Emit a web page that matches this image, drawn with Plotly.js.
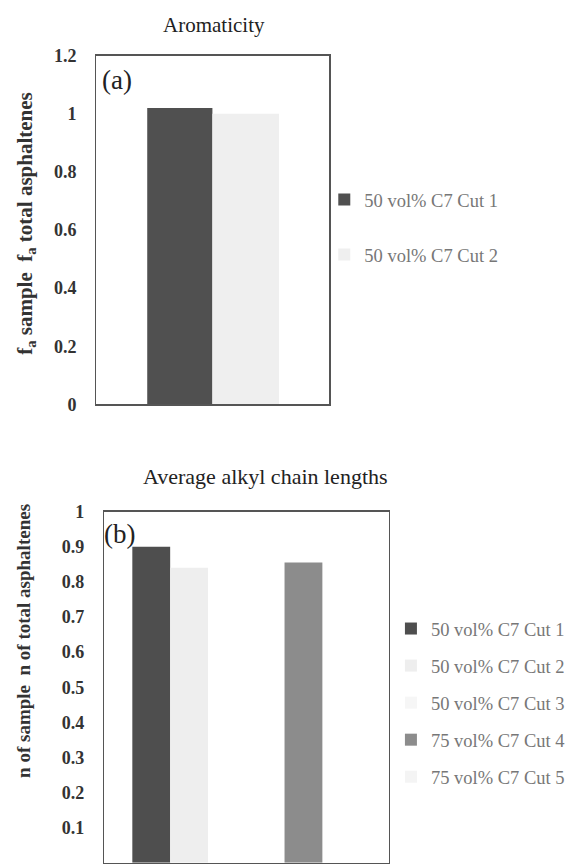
<!DOCTYPE html>
<html>
<head>
<meta charset="utf-8">
<script src="https://cdn.plot.ly/plotly-3.0.1.min.js"></script>
<style>html,body{margin:0;padding:0;background:#fff;}#chart{width:570px;height:866px;}</style>
</head>
<body>
<div id="chart"></div>
<script>
// ---- data ----
const topTitle = 'Aromaticity';
const bottomTitle = 'Average alkyl chain lengths';
const topYTitle = 'f<sub>a</sub> sample  f<sub>a</sub> total asphaltenes';
const bottomYTitle = 'n of sample  n of total asphaltenes';
const topSeries = ['50 vol% C7 Cut 1', '50 vol% C7 Cut 2'];
const topValues = [1.02, 1.00];
const bottomSeries = ['50 vol% C7 Cut 1', '50 vol% C7 Cut 2', '50 vol% C7 Cut 3', '75 vol% C7 Cut 4', '75 vol% C7 Cut 5'];
const bottomValues = [0.90, 0.84, 0, 0.855, 0];
const topTicks = [0, 0.2, 0.4, 0.6, 0.8, 1, 1.2];
const bottomTicks = [0, 0.1, 0.2, 0.3, 0.4, 0.5, 0.6, 0.7, 0.8, 0.9, 1];

// ---- styles ----
const serif = 'Liberation Serif, Times New Roman, serif';
const topColors = ['#505050', '#efefef'];
const topOffsets = [-0.282, -0.002];
const topWidths = [0.28, 0.286];
const bottomColors = ['#4e4e4e', '#eeeeee', '#f6f6f6', '#8c8c8c', '#f4f4f4'];
const bottomOffsets = [-0.402, -0.269, 0.0, 0.133, 0.266];
const bw = 0.133;

const W = 570, H = 866;
const px = v => v / W;
const py = v => 1 - v / H;

const traces = [];
topSeries.forEach((name, i) => {
  traces.push({
    type: 'bar', x: [0], y: [topValues[i]], name: name,
    xaxis: 'x', yaxis: 'y', legend: 'legend', legendgroup: 't' + i,
    offset: topOffsets[i], width: topWidths[i],
    marker: {color: topColors[i], line: {width: 0}},
    hoverinfo: 'y'
  });
});
bottomSeries.forEach((name, i) => {
  traces.push({
    type: 'bar', x: [0], y: [bottomValues[i]], name: name,
    xaxis: 'x2', yaxis: 'y2', legend: 'legend2', legendgroup: 'b' + i,
    offset: bottomOffsets[i], width: bw,
    marker: {color: bottomColors[i], line: {width: 0}},
    hoverinfo: 'y'
  });
});

const axisLine = {showline: true, mirror: true, linecolor: '#555', linewidth: 1.5, showgrid: false, zeroline: false};
const tickFont = {family: serif, size: 18, color: '#333', weight: 'bold'};

const layout = {
  width: W, height: H,
  margin: {l: 0, r: 0, t: 0, b: 0},
  paper_bgcolor: '#fff', plot_bgcolor: '#fff',
  barmode: 'overlay',
  showlegend: true,
  xaxis: Object.assign({}, axisLine, {domain: [px(97), px(331)], range: [-0.5, 0.5], showticklabels: false, ticks: '', anchor: 'y', fixedrange: true}),
  yaxis: Object.assign({}, axisLine, {domain: [py(404.3), py(55.7)], range: [0, 1.2], tickvals: topTicks, ticktext: topTicks.map(String), ticks: '', tickfont: tickFont, ticklabelstandoff: 15, anchor: 'x'}),
  xaxis2: Object.assign({}, axisLine, {domain: [px(105), px(391)], range: [-0.5, 0.5], showticklabels: false, ticks: '', anchor: 'y2', fixedrange: true}),
  yaxis2: Object.assign({}, axisLine, {domain: [py(862.7), py(511.7)], range: [0, 1], tickvals: bottomTicks, ticktext: bottomTicks.map(String), ticks: '', tickfont: tickFont, ticklabelstandoff: 15, anchor: 'x2'}),
  legend: {x: px(326), xanchor: 'left', y: py(181), yanchor: 'top', bgcolor: 'rgba(0,0,0,0)',
    font: {family: serif, size: 18.5, color: '#777'}, tracegroupgap: 28, traceorder: 'grouped', itemwidth: 30},
  legend2: {x: px(393), xanchor: 'left', y: py(610), yanchor: 'top', bgcolor: 'rgba(0,0,0,0)',
    font: {family: serif, size: 18.5, color: '#777'}, tracegroupgap: 10, traceorder: 'grouped', itemwidth: 30},
  annotations: [
    {text: topTitle, x: px(215), y: py(25), xref: 'paper', yref: 'paper', showarrow: false, xanchor: 'center', yanchor: 'middle',
      font: {family: serif, size: 21, color: '#222'}},
    {text: bottomTitle, x: px(267), y: py(476), xref: 'paper', yref: 'paper', showarrow: false, xanchor: 'center', yanchor: 'middle',
      font: {family: serif, size: 22, color: '#222'}},
    {text: topYTitle, x: px(26), y: py(223), xref: 'paper', yref: 'paper', showarrow: false, textangle: -90, xanchor: 'center', yanchor: 'middle',
      font: {family: serif, size: 21, color: '#333', weight: 'bold'}},
    {text: bottomYTitle, x: px(23), y: py(641), xref: 'paper', yref: 'paper', showarrow: false, textangle: -90, xanchor: 'center', yanchor: 'middle',
      font: {family: serif, size: 19, color: '#333', weight: 'bold'}},
    {text: '(a)', x: px(101), y: py(80), xref: 'paper', yref: 'paper', showarrow: false, xanchor: 'left', yanchor: 'middle',
      font: {family: serif, size: 27, color: '#222'}},
    {text: '(b)', x: px(103), y: py(534), xref: 'paper', yref: 'paper', showarrow: false, xanchor: 'left', yanchor: 'middle',
      font: {family: serif, size: 27, color: '#222'}}
  ]
};

Plotly.newPlot('chart', traces, layout, {displayModeBar: false, staticPlot: true});
</script>
</body>
</html>
